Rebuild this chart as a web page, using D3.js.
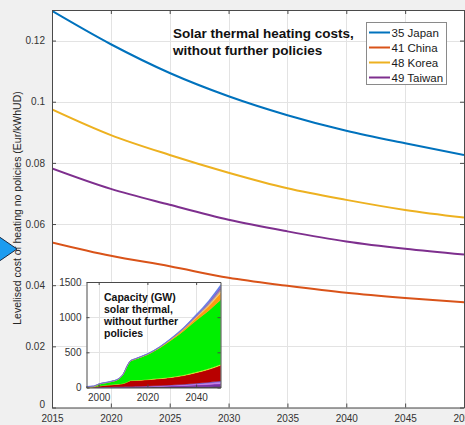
<!DOCTYPE html>
<html>
<head>
<meta charset="utf-8">
<script src="https://cdn.jsdelivr.net/npm/d3@7"></script>
<style>
  html, body { margin: 0; padding: 0; background: #f0f0f0; }
  svg { display: block; font-family: "Liberation Sans", Arial, sans-serif; }
</style>
</head>
<body>
<svg id="chart" width="465" height="425"></svg>
<script>
// ---- Levelised cost of solar thermal heating (Eur/kWhUD), no further policies ----
const years = [2015, 2020, 2025, 2030, 2035, 2040, 2045, 2050];
const seriesNames = ["35 Japan", "41 China", "48 Korea", "49 Taiwan"];
const japan  = [0.1297, 0.1188, 0.1094, 0.1018, 0.0956, 0.0905, 0.0864, 0.0826];
const china  = [0.0540, 0.0496, 0.0462, 0.0424, 0.0398, 0.0375, 0.0358, 0.0344];
const korea  = [0.0975, 0.0891, 0.0826, 0.0768, 0.0717, 0.0679, 0.0646, 0.0621];
const taiwan = [0.0782, 0.0715, 0.0663, 0.0614, 0.0576, 0.0543, 0.0519, 0.0500];
const seriesColors = ["#0072bd", "#d95319", "#edb120", "#7e2f8e"];
const xTicks = [2015, 2020, 2025, 2030, 2035, 2040, 2045, 2050];
const yTicks = [0, 0.02, 0.04, 0.06, 0.08, 0.1, 0.12];

// ---- Inset: installed solar thermal capacity (GW), stacked by region ----
const capYears    = [1995, 1998, 2000, 2005, 2008, 2010, 2012, 2013, 2015, 2020, 2025, 2030, 2035, 2040, 2045, 2050];
const capBlack    = [2, 2, 3, 3, 4, 4, 4, 4, 5, 5, 6, 7, 8, 10, 12, 14];
const capPurple   = [0, 0, 1, 2, 2, 3, 4, 4, 5, 7, 10, 14, 18, 24, 30, 38];
const capLilac    = [0, 0, 1, 2, 2, 3, 4, 4, 5, 6, 8, 11, 14, 18, 23, 28];
const capBlue     = [0, 0, 0, 1, 1, 1, 2, 2, 2, 3, 4, 5, 6, 8, 10, 12];
const capRed      = [0, 8, 17, 30, 38, 44, 66, 83, 83, 89, 97, 106, 124, 150, 180, 223];
const capYellow   = [0, 0, 0, 1, 1, 2, 3, 3, 4, 5, 6, 7, 8, 9, 10, 12];
const capGreen    = [0, 1, 20, 41, 66, 124, 237, 270, 296, 352, 429, 529, 630, 733, 824, 918];
const capOrange   = [1, 3, 3, 3, 3, 3, 4, 4, 4, 5, 8, 13, 22, 38, 62, 95];
const capPeach    = [0, 0, 0, 0, 1, 1, 1, 1, 1, 1, 2, 3, 6, 11, 19, 30];
const capGrey     = [10, 6, 3, 2, 2, 2, 2, 2, 2, 2, 3, 4, 6, 10, 16, 25];
const capViolet   = [1, 2, 2, 2, 2, 2, 2, 2, 2, 3, 4, 6, 10, 16, 24, 35];
const capSky      = [0, 0, 0, 1, 1, 1, 1, 1, 1, 2, 3, 5, 8, 13, 20, 30];
const capLayers = [
  { key: "black",  values: capBlack,  color: "#000000" },
  { key: "purple", values: capPurple, color: "#7a2fa8" },
  { key: "lilac",  values: capLilac,  color: "#c27ce6" },
  { key: "blue",   values: capBlue,   color: "#5656d6" },
  { key: "red",    values: capRed,    color: "#b80000" },
  { key: "yellow", values: capYellow, color: "#ffff30" },
  { key: "green",  values: capGreen,  color: "#00f000" },
  { key: "orange", values: capOrange, color: "#ff9a10" },
  { key: "peach",  values: capPeach,  color: "#ffc466" },
  { key: "grey",   values: capGrey,   color: "#aaa08c" },
  { key: "violet", values: capViolet, color: "#8a5cc0" },
  { key: "sky",    values: capSky,    color: "#5c7ae6" }
];
const capXTicks = [2000, 2020, 2040];
const capYTicks = [0, 500, 1000, 1500];

const svg = d3.select("#chart");
const W = 465, H = 425;
svg.append("rect").attr("width", W).attr("height", H).attr("fill", "#f0f0f0");

// Main axes geometry
const L = 52, R = 464, T = 10, B = 407.5;
const x = d3.scaleLinear().domain([2015, 2050]).range([L, R]);
const y = d3.scaleLinear().domain([0, 0.13]).range([B, T]);

svg.append("rect").attr("x", L).attr("y", T).attr("width", R - L).attr("height", B - T).attr("fill", "#ffffff");

// Grid
const grid = svg.append("g").attr("stroke", "#e3e3e3").attr("stroke-width", 1);
xTicks.forEach(t => grid.append("line").attr("x1", Math.round(x(t)) + 0.5).attr("x2", Math.round(x(t)) + 0.5).attr("y1", T).attr("y2", B));
yTicks.forEach(t => grid.append("line").attr("x1", L).attr("x2", R).attr("y1", Math.round(y(t)) + 0.5).attr("y2", Math.round(y(t)) + 0.5));

// Curves
const line = d3.line().x(d => x(d[0])).y(d => y(d[1])).curve(d3.curveMonotoneX);
const seriesValues = [japan, china, korea, taiwan];
svg.append("defs").append("clipPath").attr("id", "plotClip")
  .append("rect").attr("x", L).attr("y", T - 1).attr("width", R - L).attr("height", B - T + 1);
const curves = svg.append("g").attr("clip-path", "url(#plotClip)");
seriesValues.forEach((vals, i) => {
  curves.append("path")
    .datum(years.map((yr, j) => [yr, vals[j]]))
    .attr("d", line)
    .attr("fill", "none")
    .attr("stroke", seriesColors[i])
    .attr("stroke-width", 2);
});

// Axes (box with inward ticks on all sides)
const axisColor = "#4a4a4a";
const xAxis = d3.axisBottom(x).tickValues(xTicks).tickFormat(d3.format("d")).tickSizeInner(-4).tickSizeOuter(0).tickPadding(10);
const yAxis = d3.axisLeft(y).tickValues(yTicks).tickFormat(d => d === 0 ? "0" : d3.format("")(+d.toFixed(2))).tickSizeInner(-4).tickSizeOuter(0).tickPadding(7);
const gx = svg.append("g").attr("transform", `translate(0,${B})`).call(xAxis);
const gy = svg.append("g").attr("transform", `translate(${L},0)`).call(yAxis);
const gxTop = svg.append("g").attr("transform", `translate(0,${T})`).call(d3.axisTop(x).tickValues(xTicks).tickFormat("").tickSizeInner(-4).tickSizeOuter(0));
const gyRight = svg.append("g").attr("transform", `translate(${R},0)`).call(d3.axisRight(y).tickValues(yTicks).tickFormat("").tickSizeInner(-4).tickSizeOuter(0));
[gx, gy, gxTop, gyRight].forEach(g => {
  g.select(".domain").attr("stroke", axisColor);
  g.selectAll(".tick line").attr("stroke", axisColor);
  g.selectAll(".tick text").attr("fill", "#333333").attr("font-size", 10).attr("font-family", "Liberation Sans, Arial, sans-serif");
});
gx.selectAll(".tick text").attr("dy", "0.4em");
// lift the zero label slightly so it clears the year labels
gy.selectAll(".tick text").filter(d => d === 0).attr("dy", "-0.05em");

// Y axis title
svg.append("text")
  .attr("transform", "translate(21,208) rotate(-90)")
  .attr("text-anchor", "middle")
  .attr("font-size", 10.5)
  .attr("fill", "#262626")
  .text("Levelised cost of heating no policies (Eur/kWhUD)");

// Title text inside the plot
const title = svg.append("text").attr("font-size", 13.5).attr("font-weight", "bold").attr("fill", "#111");
title.append("tspan").attr("x", 173).attr("y", 38).text("Solar thermal heating costs,");
title.append("tspan").attr("x", 173).attr("y", 55).text("without further policies");

// Legend
const lg = svg.append("g");
lg.append("rect").attr("x", 366.5).attr("y", 22.5).attr("width", 80).attr("height", 62)
  .attr("fill", "#ffffff").attr("stroke", "#8a8a8a").attr("stroke-width", 1);
seriesNames.forEach((name, i) => {
  const cy = 32.5 + i * 15;
  lg.append("line").attr("x1", 369).attr("x2", 390).attr("y1", cy).attr("y2", cy)
    .attr("stroke", seriesColors[i]).attr("stroke-width", 2);
  lg.append("text").attr("x", 391.5).attr("y", cy).attr("dy", "0.36em")
    .attr("font-size", 11.5).attr("fill", "#1a1a1a").text(name);
});

// ---- Inset chart ----
const iL = 86.5, iR = 220.5, iT = 282, iB = 387.5;
const ix = d3.scaleLinear().domain([1995, 2050]).range([iL, iR]);
const iy = d3.scaleLinear().domain([0, 1500]).range([iB, iT]);
const inset = svg.append("g");
inset.append("rect").attr("x", iL).attr("y", iT).attr("width", iR - iL).attr("height", iB - iT).attr("fill", "#ffffff");
const igrid = inset.append("g").attr("stroke", "#e3e3e3");
capXTicks.forEach(t => igrid.append("line").attr("x1", Math.round(ix(t)) + 0.5).attr("x2", Math.round(ix(t)) + 0.5).attr("y1", iT).attr("y2", iB));
capYTicks.slice(1, -1).forEach(t => igrid.append("line").attr("x1", iL).attr("x2", iR).attr("y1", Math.round(iy(t)) + 0.5).attr("y2", Math.round(iy(t)) + 0.5));

const capRows = capYears.map((yr, j) => {
  const row = { year: yr };
  capLayers.forEach(l => { row[l.key] = l.values[j]; });
  return row;
});
const stacked = d3.stack().keys(capLayers.map(l => l.key))(capRows);
const area = d3.area().x(d => ix(d.data.year)).y0(d => iy(d[0])).y1(d => iy(d[1])).curve(d3.curveMonotoneX);
stacked.forEach((s, i) => {
  inset.append("path").datum(s).attr("d", area)
    .attr("fill", capLayers[i].color)
    .attr("stroke", capLayers[i].color).attr("stroke-width", 0.4);
});

const iax = inset.append("g").attr("transform", `translate(0,${iB})`)
  .call(d3.axisBottom(ix).tickValues(capXTicks).tickFormat(d3.format("d")).tickSizeInner(-3).tickSizeOuter(0).tickPadding(6));
const iay = inset.append("g").attr("transform", `translate(${iL},0)`)
  .call(d3.axisLeft(iy).tickValues(capYTicks).tickFormat(d3.format("d")).tickSizeInner(-3).tickSizeOuter(0).tickPadding(5));
const iaxTop = inset.append("g").attr("transform", `translate(0,${iT})`)
  .call(d3.axisTop(ix).tickValues(capXTicks).tickFormat("").tickSizeInner(-3).tickSizeOuter(0));
const iayRight = inset.append("g").attr("transform", `translate(${iR},0)`)
  .call(d3.axisRight(iy).tickValues(capYTicks).tickFormat("").tickSizeInner(-3).tickSizeOuter(0));
[iax, iay, iaxTop, iayRight].forEach(g => {
  g.select(".domain").attr("stroke", axisColor);
  g.selectAll(".tick line").attr("stroke", axisColor);
  g.selectAll(".tick text").attr("fill", "#333333").attr("font-size", 10).attr("font-family", "Liberation Sans, Arial, sans-serif");
});

const itext = inset.append("text").attr("font-size", 10.5).attr("font-weight", "bold").attr("fill", "#111");
["Capacity (GW)", "solar thermal,", "without further", "policies"].forEach((s, i) => {
  itext.append("tspan").attr("x", 104).attr("y", 300.5 + i * 12).text(s);
});

// Pointer arrow at the left margin
svg.append("polygon")
  .attr("points", "-2,236 17,249 -2,262")
  .attr("fill", "#1c9cf0")
  .attr("stroke", "#1b2b44")
  .attr("stroke-width", 1);
</script>
</body>
</html>
